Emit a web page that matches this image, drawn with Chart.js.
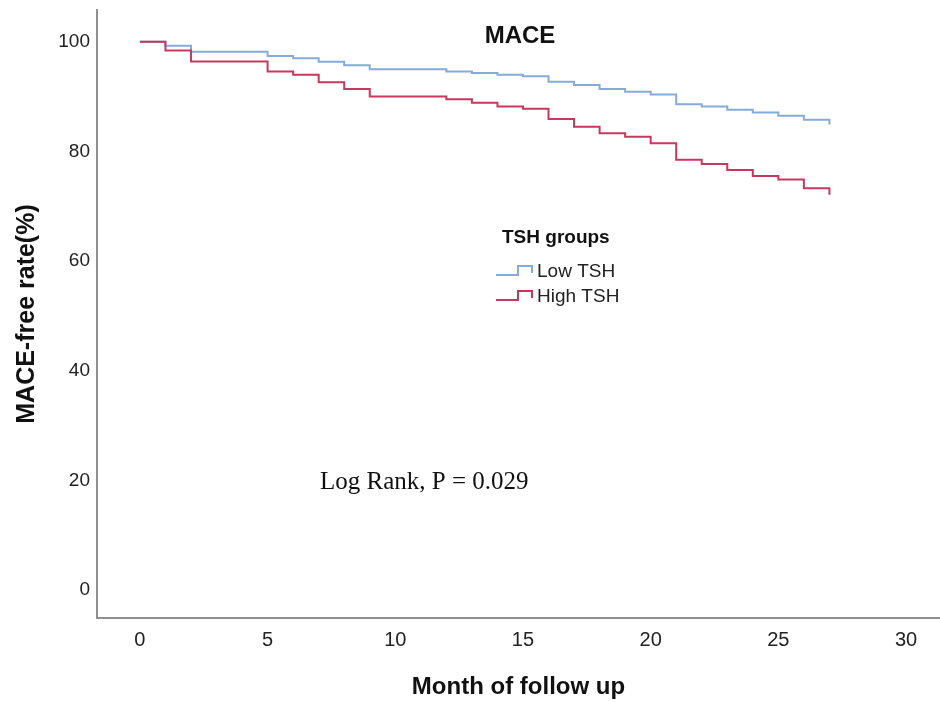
<!DOCTYPE html>
<html>
<head>
  <title>MACE</title>
  <script src="https://cdn.jsdelivr.net/npm/chart.js"></script>
  <style>
    html, body { margin: 0; padding: 0; background: #fff; }
    #wrap { width: 940px; height: 702px; }
  </style>
</head>
<body>
<div id="wrap"><canvas id="kmChart" width="940" height="702"></canvas></div>

<script>
  // Kaplan-Meier data (month, survival %)
  const months = [0, 1, 2, 5, 6, 7, 8, 9, 12, 13, 14, 15, 16, 17, 18, 19, 20, 21, 22, 23, 24, 25, 26, 27];
  const lowTSH  = [100, 99.3, 98.2, 97.4, 97.0, 96.35, 95.7, 95.0, 94.6, 94.3, 94.0, 93.7, 92.7, 92.1, 91.4, 90.9, 90.4, 88.6, 88.2, 87.6, 87.1, 86.5, 85.8, 84.9];
  const highTSH = [100, 98.4, 96.4, 94.6, 94.0, 92.6, 91.4, 90.0, 89.5, 88.9, 88.2, 87.8, 85.9, 84.5, 83.3, 82.7, 81.5, 78.5, 77.7, 76.6, 75.5, 74.9, 73.3, 72.1];

  const xTicks = [0, 5, 10, 15, 20, 25, 30];
  const yTicks = [0, 20, 40, 60, 80, 100];

  const groupNames = ['Low TSH', 'High TSH'];
  const colors = ['#86abdb', '#c7385d'];

  const toPoints = (ys) => months.map((m, i) => ({ x: m, y: ys[i] }));

  // текст, легенда і заголовок поверх графіка
  const extras = {
    id: 'extras',
    afterDraw(chart) {
      const ctx = chart.ctx;
      ctx.save();
      ctx.fillStyle = '#111';
      ctx.textBaseline = 'middle';

      ctx.font = 'bold 24px "Liberation Sans", Arial, sans-serif';
      ctx.textAlign = 'center';
      ctx.fillText('MACE', 520, 36);

      ctx.textAlign = 'left';
      ctx.font = 'bold 19px "Liberation Sans", Arial, sans-serif';
      ctx.fillText('TSH groups', 502, 238);

      ctx.font = '19px "Liberation Sans", Arial, sans-serif';
      const rows = [272, 297];
      rows.forEach((y, i) => {
        ctx.strokeStyle = colors[i];
        ctx.lineWidth = 2;
        ctx.beginPath();
        ctx.moveTo(496, y + 3);
        ctx.lineTo(518, y + 3);
        ctx.lineTo(518, y - 6);
        ctx.lineTo(532, y - 6);
        ctx.lineTo(532, y + 1);
        ctx.stroke();
        ctx.fillStyle = '#222';
        ctx.fillText(groupNames[i], 537, y);
      });

      ctx.font = '25px "Liberation Serif", "Times New Roman", serif';
      ctx.fillStyle = '#111';
      ctx.fillText('Log Rank, P = 0.029', 320, 482);
      ctx.restore();
    }
  };

  const kmChart = new Chart(document.getElementById('kmChart'), {
    type: 'line',
    data: {
      datasets: [
        {
          label: groupNames[0],
          data: toPoints(lowTSH),
          borderColor: colors[0],
          borderWidth: 2,
          stepped: 'before',
          pointRadius: 0,
          fill: false,
          order: 2
        },
        {
          label: groupNames[1],
          data: toPoints(highTSH),
          borderColor: colors[1],
          borderWidth: 2,
          stepped: 'before',
          pointRadius: 0,
          fill: false,
          order: 1
        }
      ]
    },
    options: {
      responsive: false,
      animation: false,
      layout: { padding: { top: 10, right: 0, left: 0, bottom: 0 } },
      plugins: {
        legend: { display: false },
        tooltip: { enabled: false }
      },
      scales: {
        x: {
          type: 'linear',
          min: -1.68,
          max: 31.33,
          grid: { display: false, drawTicks: false },
          border: { color: '#8f8f8f', width: 2 },
          afterBuildTicks: (axis) => { axis.ticks = xTicks.map(v => ({ value: v })); },
          afterFit: (axis) => { axis.height = 84; },
          ticks: {
            color: '#222',
            padding: 10,
            maxRotation: 0,
            font: { family: '"Liberation Sans Narrow", "Liberation Sans", Arial', size: 20 }
          },
          title: {
            display: true,
            text: 'Month of follow up',
            color: '#111',
            padding: { top: 0, bottom: 0 },
            font: { family: '"Liberation Sans", Arial', size: 24, weight: 'bold' }
          }
        },
        y: {
          min: -5.1,
          max: 105.8,
          grid: { display: false, drawTicks: false },
          border: { color: '#8f8f8f', width: 2 },
          afterBuildTicks: (axis) => { axis.ticks = yTicks.map(v => ({ value: v })); },
          afterFit: (axis) => { axis.width = 97; axis.paddingTop = 0; axis.paddingBottom = 0; },
          ticks: {
            color: '#222',
            padding: 7,
            font: { family: '"Liberation Sans", Arial', size: 19 }
          },
          title: {
            display: true,
            text: 'MACE-free rate(%)',
            color: '#111',
            padding: { top: 12, bottom: 0 },
            font: { family: '"Liberation Sans", Arial', size: 25, weight: 'bold' }
          }
        }
      }
    },
    plugins: [extras]
  });
</script>
</body>
</html>
